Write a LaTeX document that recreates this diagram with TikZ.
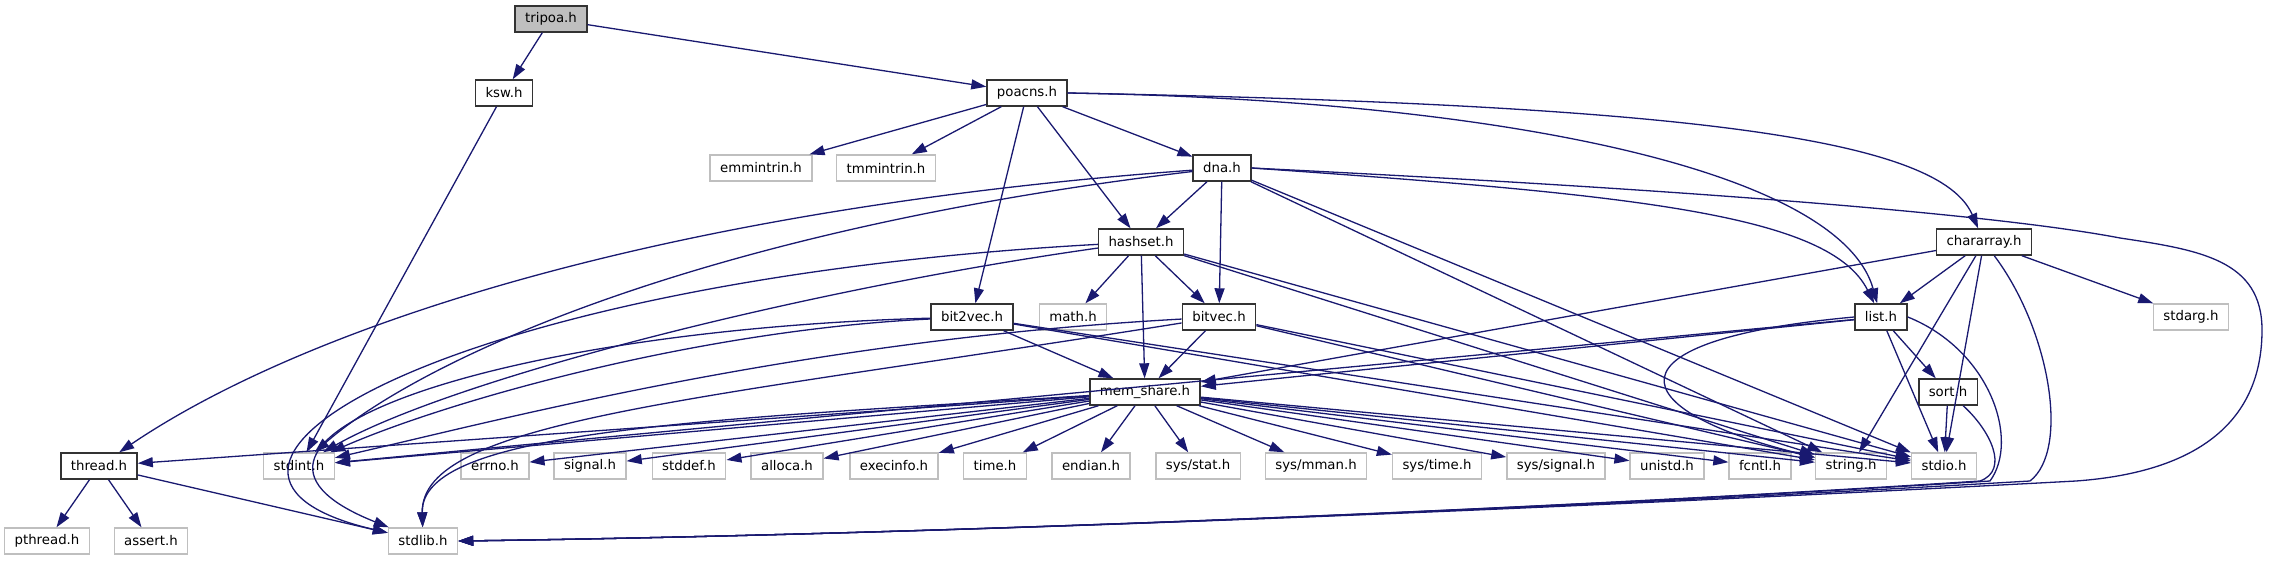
\documentclass[tikz,border=0pt]{standalone}
\usepackage{fontspec}
\setmainfont{DejaVu Sans}
\usepackage{xcolor}
\usetikzlibrary{arrows.meta}

\definecolor{edgeblue}{HTML}{191970}
\definecolor{grey75}{HTML}{BFBFBF}

\tikzset{
  box/.style={rectangle, minimum height=26pt, inner xsep=10pt, inner ysep=0pt,
    line width=1.4pt, font=\fontsize{13.3}{16}\selectfont, text=black},
  root/.style={box, draw=black!80, fill=grey75},
  hdr/.style={box, draw=black!80, fill=white},
  sys/.style={box, draw=grey75, fill=white},
  dep/.style={draw=edgeblue, line width=1.3pt, -{Triangle[length=15pt,width=10pt]}},
}

\begin{document}
\begin{tikzpicture}[x=1pt,y=-1pt]
  \useasboundingbox (0,0) rectangle (2271,560);

  % project headers
  \node[root] (tripoa) at (551,19) {tripoa.h};
  \node[hdr] (ksw) at (504,93) {ksw.h};
  \node[hdr] (poacns) at (1027,93) {poacns.h};
  \node[sys] (emmintrin) at (761,168) {emmintrin.h};
  \node[sys] (tmmintrin) at (886,168) {tmmintrin.h};
  \node[hdr] (dna) at (1222,168) {dna.h};
  \node[hdr] (hashset) at (1141,242) {hashset.h};
  \node[hdr] (chararray) at (1984,242) {chararray.h};
  \node[hdr] (bittwovec) at (972,317) {bit2vec.h};
  \node[sys] (math) at (1073,317) {math.h};
  \node[hdr] (bitvec) at (1219,317) {bitvec.h};
  \node[hdr] (list) at (1881,317) {list.h};
  \node[sys] (stdarg) at (2191,317) {stdarg.h};
  \node[hdr] (memshare) at (1145,392) {mem\_share.h};
  \node[hdr] (sort) at (1948,392) {sort.h};
  \node[hdr] (thread) at (99,466) {thread.h};

  % system headers
  \foreach \nm/\cx/\lbl in {stdint/299/stdint.h, errno/495/errno.h, signal/590/signal.h,
      stddef/689/stddef.h, alloca/787/alloca.h, execinfo/894/execinfo.h, time/995/time.h,
      endian/1091/endian.h, sysstat/1198/{sys/stat.h}, sysmman/1316/{sys/mman.h},
      systime/1437/{sys/time.h}, syssignal/1556/{sys/signal.h}, unistd/1667/unistd.h,
      fcntl/1760/fcntl.h, string/1851/string.h, stdio/1944/stdio.h}{
    \node[sys] (\nm) at (\cx,466) {\lbl};
  }
  \node[sys] (pthread) at (47,541) {pthread.h};
  \node[sys] (assert) at (151,541) {assert.h};
  \node[sys] (stdlib) at (423,541) {stdlib.h};

  % includes
  \draw[dep] (tripoa) -- (ksw);
  \draw[dep] (tripoa) -- (poacns);
  \draw[dep] (ksw) -- (stdint);
  \foreach \t in {emmintrin,tmmintrin,dna,hashset,bittwovec}{
    \draw[dep] (poacns) -- (\t);
  }
  \draw[dep] (poacns.east) .. controls (1500,100) and (1840,170) .. (list);
  \draw[dep] (poacns.east) .. controls (1700,105) and (1940,140) .. (chararray);

  \foreach \t in {hashset,bitvec,string,stdio}{
    \draw[dep] (dna) -- (\t);
  }
  \draw[dep] (dna) .. controls (650,210) and (300,330) .. (thread);
  \draw[dep] (dna) .. controls (700,230) and (420,360) .. (stdint);
  \draw[dep] (dna.east) .. controls (1640,195) and (1830,215) .. (list);
  \draw[dep] (dna.east) .. controls (1700,190) and (2000,215) .. (2120,238)
    .. controls (2200,250) and (2262,260) .. (2262,330)
    .. controls (2262,420) and (2200,472) .. (2076,481)
    .. controls (1500,512) and (900,535) .. (stdlib.east);

  \foreach \t in {math,bitvec,memshare,string,stdio}{
    \draw[dep] (hashset) -- (\t);
  }
  \draw[dep] (hashset) .. controls (800,290) and (450,380) .. (stdint);
  \draw[dep] (hashset) .. controls (450,280) and (120,470) .. (stdlib);

  \foreach \t in {memshare,string,stdio}{
    \draw[dep] (bittwovec) -- (\t);
    \draw[dep] (bitvec) -- (\t);
  }
  \draw[dep] (bittwovec) .. controls (700,330) and (450,400) .. (stdint);
  \draw[dep] (bittwovec) .. controls (500,330) and (170,440) .. (stdlib);
  \draw[dep] (bitvec) .. controls (800,340) and (500,420) .. (stdint);
  \draw[dep] (bitvec) .. controls (700,400) and (420,420) .. (stdlib);

  \foreach \t in {memshare,stdint,sort,stdio}{
    \draw[dep] (list) -- (\t);
  }
  \draw[dep] (list.west) .. controls (1600,340) and (1620,410) .. (string);
  \draw[dep] (list.east) .. controls (1990,350) and (2020,440) .. (1990,481)
    .. controls (1500,512) and (900,535) .. (stdlib.east);

  \foreach \t in {list,stdarg,memshare,string,stdio}{
    \draw[dep] (chararray) -- (\t);
  }
  \draw[dep] (chararray) .. controls (2050,330) and (2070,450) .. (2030,481)
    .. controls (1500,512) and (900,535) .. (stdlib.east);

  \draw[dep] (sort) -- (stdio);
  \draw[dep] (sort) .. controls (1990,430) and (2010,470) .. (1980,481)
    .. controls (1500,512) and (900,535) .. (stdlib.east);

  \foreach \t in {thread,stdint,errno,signal,stddef,alloca,execinfo,time,endian,
      sysstat,sysmman,systime,syssignal,unistd,fcntl,string,stdio}{
    \draw[dep] (memshare) -- (\t);
  }
  \draw[dep] (memshare) .. controls (700,420) and (420,430) .. (stdlib);

  \foreach \t in {pthread,assert,stdlib}{
    \draw[dep] (thread) -- (\t);
  }
\end{tikzpicture}
\end{document}
